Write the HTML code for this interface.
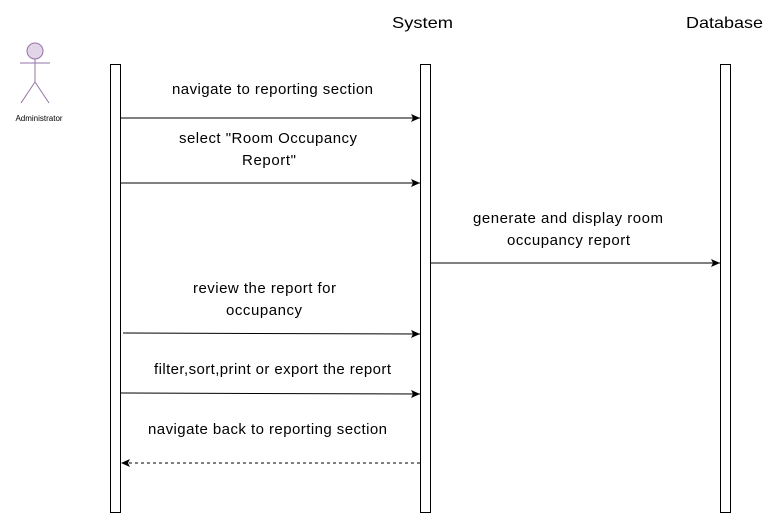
<!DOCTYPE html>
<html><head><style>body{margin:0;background:#fff}svg{display:block}</style></head><body>
<svg width="764" height="514" xmlns="http://www.w3.org/2000/svg" font-family="Liberation Sans, sans-serif">
<defs><marker id="a" markerWidth="10" markerHeight="8" refX="9" refY="4" orient="auto" markerUnits="userSpaceOnUse"><path d="M0,0 L9,4 L0,8 L2,4 Z" fill="#000"/></marker></defs>
<circle cx="35" cy="51" r="8" fill="#e1d5e7" stroke="#9673a6" stroke-width="1"/>
<g stroke="#9673a6" stroke-width="1" fill="none"><line x1="20" y1="63" x2="50" y2="63"/><line x1="35" y1="59" x2="35" y2="82"/><line x1="35" y1="82" x2="21" y2="103"/><line x1="35" y1="82" x2="49" y2="103"/></g>
<text x="39" y="121" font-size="8" text-anchor="middle" fill="#000">Administrator</text>
<text x="392" y="28" font-size="16" textLength="61" lengthAdjust="spacingAndGlyphs">System</text>
<text x="686" y="28" font-size="16" textLength="77" lengthAdjust="spacingAndGlyphs">Database</text>
<g fill="#fff" stroke="#000" stroke-width="1"><rect x="110.5" y="64.5" width="10" height="448"/><rect x="420.5" y="64.5" width="10" height="448"/><rect x="720.5" y="64.5" width="10" height="448"/></g>
<g stroke="#000" stroke-width="1" marker-end="url(#a)">
<line x1="121" y1="118" x2="420" y2="118"/>
<line x1="121" y1="183" x2="420" y2="183"/>
<line x1="431" y1="263" x2="720" y2="263"/>
<line x1="123" y1="333" x2="420" y2="334"/>
<line x1="121" y1="393" x2="420" y2="394"/>
<line x1="420" y1="463" x2="121" y2="463" stroke-dasharray="3,3"/>
</g>
<g font-size="15" fill="#000" lengthAdjust="spacingAndGlyphs">
<text x="172" y="94" textLength="201">navigate to reporting section</text>
<text x="179" y="143" textLength="178">select "Room Occupancy</text><text x="242" y="165" textLength="54">Report"</text>
<text x="473" y="223" textLength="190">generate and display room</text><text x="507" y="245" textLength="123">occupancy report</text>
<text x="193" y="293" textLength="143">review the report for</text><text x="226" y="315" textLength="76">occupancy</text>
<text x="154" y="374" textLength="237">filter,sort,print or export the report</text>
<text x="148" y="434" textLength="239">navigate back to reporting section</text>
</g>
</svg>
</body></html>
